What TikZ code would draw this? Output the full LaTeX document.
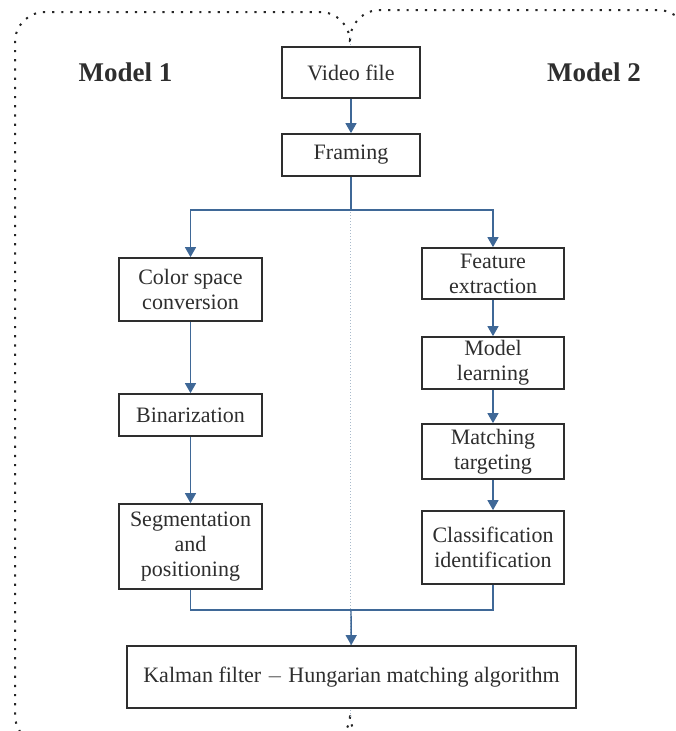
\documentclass[tikz,border=0pt]{standalone}
\usepackage{fontspec}
\setmainfont{Liberation Serif}
\usetikzlibrary{arrows.meta}
\definecolor{arrowblue}{HTML}{3F6897}
\definecolor{boxgray}{HTML}{2E2E2E}
\definecolor{midline}{HTML}{A9BACB}
\tikzset{
  stepbox/.style={draw=boxgray, line width=1.7pt, fill=white, text=boxgray,
    align=center, inner sep=0pt, font=\fontsize{22}{25}\selectfont},
  arr/.style={draw=arrowblue, line width=1.4pt, -{Triangle[width=11pt,length=10pt]}},
  conn/.style={draw=arrowblue, line width=1.4pt},
  frame/.style={draw=black!85, line width=2pt, dash pattern=on 2.2pt off 7pt, rounded corners=30pt},
  lbl/.style={text=boxgray, font=\fontsize{27}{30}\selectfont\bfseries},
}
\begin{document}
\begin{tikzpicture}[x=1pt,y=-1pt]
\useasboundingbox (0,0) rectangle (676,731);
\clip (0,0) rectangle (676,731);
% frames
\draw[frame] (350,42) -- (350,12) -- (15,12) -- (15,745) -- (350,745) -- (350,715);
\draw[frame] (350,40) -- (350,10) -- (688,10) -- (688,745) -- (350,745) -- (350,715);
\draw[midline, line width=0.7pt, dash pattern=on 1pt off 2pt] (350,38) -- (350,718);
% labels
\node[lbl, anchor=west] (m1) at (75,72) {Model 1};
\node[lbl] (m2) at (594,72) {Model 2};
% boxes
\node[stepbox, minimum width=138pt, minimum height=51pt] (video) at (351,72.5) {Video file};
\node[stepbox, minimum width=138pt, minimum height=42pt] (framing) at (351,155) {Framing};
\node[stepbox, minimum width=143pt, minimum height=63pt] (csc) at (190.5,289.5) {Color space\\conversion};
\node[stepbox, minimum width=143pt, minimum height=42pt] (bin) at (190.5,415) {Binarization};
\node[stepbox, minimum width=143pt, minimum height=85pt] (seg) at (190.5,546.5) {Segmentation\\and\\positioning};
\node[stepbox, minimum width=142pt, minimum height=51pt] (fe) at (493,273.5) {Feature\\extraction};
\node[stepbox, minimum width=142pt, minimum height=52pt] (ml) at (493,363) {Model\\learning};
\node[stepbox, minimum width=142pt, minimum height=55pt] (mt) at (493,451.5) {Matching\\targeting};
\node[stepbox, minimum width=142pt, minimum height=73pt] (ci) at (493,547.5) {Classification\\identification};
\node[stepbox, minimum width=449pt, minimum height=62pt] (kal) at (351.5,677) {Kalman filter $-$ Hungarian matching algorithm};
% connectors
\coordinate (split) at (351,210);
\coordinate (merge) at (351,610);
\draw[arr] (video) -- (framing);
\draw[conn] (framing) -- (split);
\draw[arr] (split) -| (csc);
\draw[arr] (split) -| (fe);
\draw[arr] (csc) -- (bin);
\draw[arr] (bin) -- (seg);
\draw[arr] (fe) -- (ml);
\draw[arr] (ml) -- (mt);
\draw[arr] (mt) -- (ci);
\draw[conn] (seg) |- (merge);
\draw[conn] (ci) |- (merge);
\draw[arr] (merge) -- (kal);
\end{tikzpicture}
\end{document}
